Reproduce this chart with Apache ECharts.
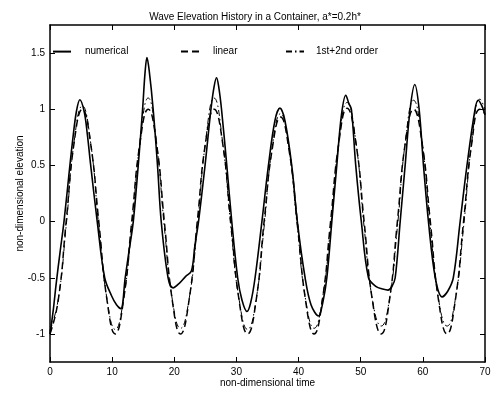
<!DOCTYPE html>
<html><head><meta charset="utf-8">
<script src="https://cdn.jsdelivr.net/npm/echarts@6/dist/echarts.min.js"></script>
<style>html,body{margin:0;padding:0;background:#fff}#c{width:501px;height:393px}</style>
</head><body><div id="c"></div>
<script>
var titleText = 'Wave Elevation History in a Container, a*=0.2h*';
var seriesNames = ['numerical', 'linear', '1st+2nd order'];
var xTicks = [0, 10, 20, 30, 40, 50, 60, 70];
var yTicks = [-1, -0.5, 0, 0.5, 1, 1.5];

var numTime = [0,0.5,1.0,1.6,2.25,3.2,3.7,4.25,4.8,5.5,6.0,6.55,7.6,8.8,9.9,10.7,11.4,12.1,12.75,13.4,14.2,14.9,15.3,15.6,15.95,16.6,17.3,17.9,19.0,19.8,20.8,21.8,22.75,23.3,23.9,24.95,25.9,26.4,26.8,27.15,27.6,28.45,29.25,30.2,30.9,31.7,32.3,33.0,34.1,35.15,36.2,37.0,37.8,38.9,39.8,41.05,42.0,43.2,43.9,44.55,45.35,46.15,46.9,47.6,48.1,48.5,49.2,50.1,51.25,52.5,53.5,54.4,55.0,55.55,56.35,57.15,57.95,58.7,59.4,60.1,60.9,62.0,63.1,64.0,64.9,66.0,67.1,68.4,68.9,69.5,70];
var numValue = [-1.0,-0.80,-0.55,-0.28,0,0.5,0.75,0.98,1.085,0.98,0.78,0.5,0,-0.5,-0.66,-0.74,-0.775,-0.5,-0.25,0,0.5,1.0,1.33,1.46,1.35,1.0,0.5,0,-0.5,-0.59,-0.55,-0.49,-0.44,-0.22,0,0.5,1.0,1.2,1.28,1.2,1.0,0.5,0,-0.5,-0.7,-0.80,-0.72,-0.5,0,0.5,0.9,1.01,0.9,0.5,0,-0.5,-0.74,-0.84,-0.72,-0.5,0,0.5,0.95,1.125,1.05,1.0,0.5,0,-0.5,-0.58,-0.6,-0.61,-0.58,-0.5,0,0.5,1.0,1.22,1.0,0.5,0,-0.5,-0.67,-0.62,-0.5,0,0.5,1.0,1.08,1.03,0.95];

var linTime = [0,1.3,2.6,3.9,5.2,6.5,7.85,9.2,10.5,11.8,13.15,14.5,15.8,17.1,18.4,19.7,21.0,22.35,23.7,25.05,26.4,27.75,29.1,30.45,31.8,33.15,34.45,35.8,37.1,38.4,39.8,41.15,42.5,43.8,45.15,46.5,47.8,49.2,50.55,51.9,53.3,54.6,55.9,57.2,58.5,59.85,61.2,62.55,63.9,65.2,66.55,67.9,69.2,70];
var linValue = [-1,-0.71,0,0.71,1,0.71,0,-0.71,-1,-0.71,0,0.71,1,0.71,0,-0.71,-1,-0.71,0,0.71,1,0.71,0,-0.71,-1,-0.71,0,0.66,0.93,0.66,0,-0.71,-1,-0.71,0,0.71,1.01,0.71,0,-0.71,-1,-0.71,0,0.71,1,0.71,0,-0.71,-1,-0.71,0,0.71,1,0.96];
var sumValue = [-0.97,-0.70,-0.04,0.72,1.03,0.72,-0.04,-0.70,-0.96,-0.70,-0.05,0.72,1.10,0.72,-0.05,-0.70,-0.95,-0.70,-0.05,0.72,1.10,0.72,-0.05,-0.70,-0.96,-0.70,-0.05,0.68,0.96,0.68,-0.05,-0.70,-0.95,-0.70,-0.05,0.72,1.06,0.72,-0.05,-0.70,-0.93,-0.70,-0.05,0.72,1.08,0.72,-0.05,-0.70,-0.93,-0.70,-0.05,0.72,1.09,1.0];

function pairs(t, v) { return t.map(function (x, i) { return [x, v[i]]; }); }

var FONT = "'Liberation Sans', Arial, sans-serif";
var chart = echarts.init(document.getElementById('c'), null, {renderer: 'canvas'});
var tickStyle = {show: true, inside: true, length: 5, lineStyle: {color: '#000', width: 1}};
var lineAx = {show: true, onZero: false, lineStyle: {color: '#000', width: 1.5}};

function leg(name, left, w, pad) {
  return {
    data: [name], left: left, top: 46, padding: 0, itemWidth: w, itemHeight: 14,
    itemStyle: {opacity: 0},
    textStyle: {fontFamily: FONT, fontSize: 10, color: '#000', padding: [0, 0, 0, pad]}
  };
}

chart.setOption({
  backgroundColor: '#fff',
  animation: false,
  title: {
    text: titleText, left: 250, top: 7, textAlign: 'center',
    textStyle: {fontFamily: FONT, fontSize: 10, fontWeight: 'normal', color: '#000'}
  },
  legend: [leg(seriesNames[0], 52, 18, 9), leg(seriesNames[1], 180, 22, 5), leg(seriesNames[2], 285, 18, 7)],
  grid: {left: 50, right: 16, top: 25, bottom: 31, containLabel: false},
  xAxis: [{
    type: 'value', min: 0, max: 70, interval: 10,
    name: 'non-dimensional time', nameLocation: 'middle', nameGap: 16, nameMoveOverlap: false,
    nameTextStyle: {fontFamily: FONT, fontSize: 10, color: '#000'},
    axisLine: lineAx, axisTick: tickStyle, splitLine: {show: false},
    axisLabel: {fontFamily: FONT, fontSize: 10, color: '#000', margin: 5}
  }, {
    type: 'value', position: 'top', min: 0, max: 70, interval: 10,
    axisLine: lineAx, axisTick: tickStyle, splitLine: {show: false}, axisLabel: {show: false}
  }],
  yAxis: [{
    type: 'value', min: -1.25, max: 1.75,
    name: 'non-dimensional elevation', nameLocation: 'middle', nameGap: 25, nameMoveOverlap: false,
    nameTextStyle: {fontFamily: FONT, fontSize: 10, color: '#000'},
    axisLine: lineAx, splitLine: {show: false},
    axisTick: Object.assign({customValues: yTicks}, tickStyle),
    axisLabel: {fontFamily: FONT, fontSize: 10, color: '#000', margin: 5, customValues: yTicks}
  }, {
    type: 'value', position: 'right', min: -1.25, max: 1.75,
    axisLine: lineAx, splitLine: {show: false},
    axisTick: Object.assign({customValues: yTicks}, tickStyle),
    axisLabel: {show: false}
  }],
  series: [{
    name: seriesNames[0], type: 'line', data: pairs(numTime, numValue),
    symbol: 'none', smooth: 0.35, lineStyle: {color: '#000', width: 1.6, type: 'solid'},
    itemStyle: {color: '#000'}, z: 3
  }, {
    name: seriesNames[1], type: 'line', data: pairs(linTime, linValue),
    symbol: 'none', smooth: 0.5, lineStyle: {color: '#000', width: 1.5, type: [7, 4]},
    itemStyle: {color: '#000'}, z: 2
  }, {
    name: seriesNames[2], type: 'line', data: pairs(linTime, sumValue),
    symbol: 'none', smooth: 0.5, lineStyle: {color: '#000', width: 1, type: [6, 3, 1.5, 3]},
    itemStyle: {color: '#000'}, z: 1
  }]
});
</script></body></html>
